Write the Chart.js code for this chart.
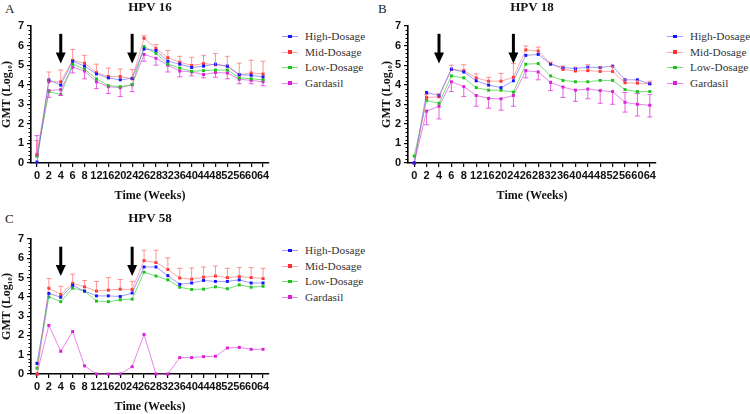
<!DOCTYPE html>
<html><head><meta charset="utf-8">
<script src="https://cdn.jsdelivr.net/npm/chart.js@4.4.1/dist/chart.umd.min.js"></script>
<style>
html,body{margin:0;padding:0;background:#fff;width:750px;height:414px;overflow:hidden;position:relative}
.box{position:absolute}
.letter{position:absolute;font:13px "Liberation Serif",serif;color:#222;line-height:14px}
.legend{position:absolute;font:11.3px "Liberation Serif",serif;color:#333;width:90px;height:70px}
.legend .row{position:absolute;left:0;height:14px;width:90px}
.legend .ln{position:absolute;left:0;top:7px;width:16px;height:1px}
.legend .pt{position:absolute;left:6px;top:5.5px;width:3.5px;height:3.5px}
.legend .tx{position:absolute;left:23px;top:0;line-height:14px;white-space:nowrap}
</style></head>
<body>
<div class="letter" style="left:5px;top:2px">A</div>
<div class="letter" style="left:378px;top:2px">B</div>
<div class="letter" style="left:5px;top:212px">C</div>
<div class="box" style="left:0;top:0;width:277px;height:203px"><canvas id="cA"></canvas></div>
<div class="box" style="left:380px;top:0;width:284px;height:203px"><canvas id="cB"></canvas></div>
<div class="box" style="left:0;top:211px;width:277px;height:203px"><canvas id="cC"></canvas></div>
<div class="legend" id="legA" style="left:282px;top:29px"></div>
<div class="legend" id="legB" style="left:667px;top:29px"></div>
<div class="legend" id="legC" style="left:282px;top:243px"></div>
<script>
// ---------- shared categories / labels ----------
const weeks = ['0','2','4','6','8','12','16','20','24','26','28','32','36','40','44','48','52','56','60','64'];
const seriesNames = ['High-Dosage','Mid-Dosage','Low-Dosage','Gardasil'];
const boostWeeks = ['4','24'];
const yMin = 0, yMax = 7;

// ---------- HPV 16 ----------
const high16 = [0.05,4.25,3.98,5.20,4.95,4.55,4.35,4.25,4.33,5.82,5.75,5.20,5.05,4.88,4.95,5.05,4.95,4.52,4.48,4.40];
const mid16  = [0.45,4.15,4.15,5.25,5.10,4.62,4.42,4.42,4.30,6.38,5.85,5.38,5.15,4.98,5.08,5.02,4.95,4.50,4.60,4.55];
const low16  = [0.35,3.65,3.50,5.05,4.80,4.30,3.95,3.90,4.00,5.95,5.60,5.05,4.85,4.68,4.72,4.75,4.75,4.35,4.30,4.25];
const gar16  = [0.40,3.70,3.75,4.90,4.70,4.15,3.90,3.85,4.00,5.55,5.35,5.00,4.70,4.65,4.52,4.62,4.60,4.28,4.22,4.15];
const mid16Hi = [1.15,4.65,4.75,5.80,5.50,5.05,4.85,4.80,4.78,6.50,6.05,5.75,5.45,5.40,5.50,5.60,5.45,5.10,5.25,5.20];
const gar16Lo = [null,3.35,3.45,4.60,4.30,3.80,3.55,3.40,3.65,5.20,5.00,4.65,4.40,4.45,4.35,4.38,4.30,4.05,4.05,3.95];
const gar16Hi = [1.40,null,null,null,null,null,null,null,null,null,null,null,null,null,null,null,null,null,null,null];

// ---------- HPV 18 ----------
const high18 = [0.00,3.60,3.45,4.80,4.65,4.20,3.98,3.85,4.20,5.50,5.55,5.05,4.88,4.82,4.90,4.88,4.95,4.25,4.25,4.05];
const mid18  = [0.00,3.35,3.38,4.78,4.72,4.35,4.18,4.18,4.38,5.78,5.72,5.08,4.78,4.70,4.72,4.68,4.68,4.10,4.08,4.05];
const low18  = [0.35,3.20,3.05,4.45,4.35,3.85,3.72,3.72,3.62,5.05,5.08,4.45,4.22,4.15,4.15,4.22,4.22,3.75,3.65,3.65];
const gar18  = [0.00,2.65,2.90,4.15,3.90,3.45,3.30,3.28,3.45,4.72,4.65,4.12,3.88,3.72,3.78,3.70,3.65,3.10,3.00,2.95];
const mid18Hi = [null,3.50,3.55,5.00,5.02,4.55,4.38,4.58,5.08,5.98,5.92,5.15,4.95,4.90,5.02,4.92,4.95,4.25,4.22,4.18];
const gar18Lo = [null,1.95,2.25,3.65,3.40,2.90,2.80,2.70,2.90,4.35,4.25,3.70,3.35,3.15,3.28,3.05,3.00,2.60,2.40,2.35];
const gar18Hi = [null,null,null,null,null,null,null,null,null,null,null,null,null,null,null,null,null,3.60,3.55,3.50];

// ---------- HPV 58 ----------
const high58 = [0.55,4.18,3.98,4.60,4.30,4.05,4.05,4.02,4.20,5.55,5.55,5.10,4.65,4.72,4.85,4.80,4.80,4.88,4.72,4.72];
const mid58  = [0.00,4.45,4.12,4.70,4.52,4.30,4.35,4.40,4.38,5.88,5.78,5.42,4.98,4.92,5.02,5.08,5.00,5.05,5.00,4.95];
const low58  = [0.30,4.00,3.75,4.45,4.30,3.78,3.75,3.85,3.88,5.28,5.08,4.88,4.50,4.38,4.40,4.52,4.42,4.62,4.50,4.55];
const gar58  = [0.00,2.52,1.18,2.20,0.42,0.00,0.00,0.00,0.38,2.05,0.00,0.00,0.85,0.85,0.90,0.92,1.35,1.38,1.28,1.28];
const mid58Hi = [null,4.95,4.55,5.18,4.85,4.80,5.00,4.90,4.80,6.42,6.42,6.02,5.48,5.50,5.55,5.60,5.48,5.52,5.52,5.48];

// ---------- styles ----------
const markerColors = ['#1414ff','#ff2d2d','#1fbf1f','#d81ed8'];
const lineColors   = ['rgba(90,90,255,0.6)','rgba(255,120,120,0.65)','rgba(70,215,70,0.75)','rgba(225,80,225,0.7)'];
const errColors    = ['#5a5aff','rgba(255,120,120,0.8)','#46d746','rgba(220,60,220,0.8)'];

const errorBarPlugin = {
  id:'errBars',
  afterDatasetsDraw(chart){
    const {ctx, scales:{x,y}} = chart;
    chart.data.datasets.forEach(ds=>{
      [ds.errHi, ds.errLo].forEach(arr=>{
        if(!arr) return;
        ctx.save();
        ctx.strokeStyle = ds.errColor; ctx.lineWidth = 1;
        arr.forEach((e,j)=>{
          if(e==null) return;
          const px = x.getPixelForValue(j), py = y.getPixelForValue(ds.data[j]), pe = y.getPixelForValue(e);
          ctx.beginPath(); ctx.moveTo(px,py); ctx.lineTo(px,pe);
          ctx.moveTo(px-2.5,pe); ctx.lineTo(px+2.5,pe); ctx.stroke();
        });
        ctx.restore();
      });
    });
  }
};
const arrowPlugin = {
  id:'boostArrows',
  afterDraw(chart, args, opts){
    const {ctx, scales:{x,y}} = chart;
    opts.at.forEach(lbl=>{
      const px = x.getPixelForValue(weeks.indexOf(lbl));
      const top = y.getPixelForValue(opts.from), tip = y.getPixelForValue(opts.to);
      ctx.save(); ctx.fillStyle='#000'; ctx.strokeStyle='#000'; ctx.lineWidth=3;
      ctx.beginPath(); ctx.moveTo(px,top); ctx.lineTo(px,tip-9); ctx.stroke();
      ctx.beginPath(); ctx.moveTo(px-5,tip-11); ctx.lineTo(px+5,tip-11); ctx.lineTo(px,tip); ctx.closePath(); ctx.fill();
      ctx.restore();
    });
  }
};
const minorTickPlugin = {
  id:'minorTicks',
  afterDraw(chart){
    const {ctx, scales:{y}, chartArea} = chart;
    ctx.save(); ctx.strokeStyle='#000'; ctx.lineWidth=1;
    for(let v=yMin; v<yMax; v+=1){
      for(let k=1;k<5;k++){
        const py = Math.round(y.getPixelForValue(v+k*0.2))+0.5;
        ctx.beginPath(); ctx.moveTo(chartArea.left,py); ctx.lineTo(chartArea.left-2.5,py); ctx.stroke();
      }
    }
    ctx.restore();
  }
};

function buildLegend(id){
  const el = document.getElementById(id);
  const tops = [0,15.5,31,46.5];
  seriesNames.forEach((n,i)=>{
    const r = document.createElement('div'); r.className='row'; r.style.top = tops[i]+'px';
    r.innerHTML = '<div class="ln" style="background:'+lineColors[i]+'"></div><div class="pt" style="background:'+markerColors[i]+'"></div><div class="tx">'+n+'</div>';
    el.appendChild(r);
  });
}

function makeChart(canvasId, title, series, errs, yAxisW, titleBottomPad){
  const datasets = series.map((d,i)=>({
    label: seriesNames[i], data: d,
    borderColor: lineColors[i], borderWidth: 1, tension: 0,
    pointStyle:'rect', pointRadius: 2.1, pointBorderWidth: 0,
    pointBackgroundColor: markerColors[i], pointBorderColor: markerColors[i],
    errHi: errs[i] ? errs[i].hi : null, errLo: errs[i] ? errs[i].lo : null, errColor: errColors[i],
    clip: false
  }));
  const tickFont = {family:'"Liberation Sans", Arial, sans-serif', weight:'bold', size:11};
  const titleFont = {family:'"Liberation Serif", "Times New Roman", serif', weight:'bold', size:12};
  return new Chart(document.getElementById(canvasId), {
    type:'line',
    data:{labels: weeks, datasets},
    options:{
      responsive:true, maintainAspectRatio:false, animation:false,
      layout:{padding:{left:0,right:8,top:0,bottom:0}},
      plugins:{
        legend:{display:false}, tooltip:{enabled:false},
        title:{display:true, text:title, fullSize:false, color:'#111',
               font:{family:'"Liberation Serif", "Times New Roman", serif', weight:'bold', size:13},
               padding:{top:0,bottom:titleBottomPad}},
        boostArrows:{at: boostWeeks, from: 6.6, to: 5.08}
      },
      scales:{
        x:{type:'category', offset:true,
           grid:{display:true, drawOnChartArea:false, drawTicks:true, tickLength:4, color:'#000', lineWidth:1.2, offset:false},
           border:{display:true, color:'#000', width:1.6},
           ticks:{autoSkip:false, maxRotation:0, minRotation:0, padding:2, color:'#111', font:tickFont},
           title:{display:true, text:'Time (Weeks)', color:'#111', font:titleFont, padding:{top:0,bottom:0}},
           afterFit(s){ s.height = 40; }
        },
        y:{min:yMin, max:yMax,
           grid:{display:true, drawOnChartArea:false, drawTicks:true, tickLength:4, color:'#000', lineWidth:1.2},
           border:{display:true, color:'#000', width:1.6},
           ticks:{stepSize:1, padding:3, color:'#111', font:tickFont},
           title:{display:true, text:'GMT (Log\u2081\u2080)', color:'#111', font:titleFont, padding:{top:0,bottom:0}},
           afterFit(s){ s.width = yAxisW; }
        }
      }
    },
    plugins:[errorBarPlugin, arrowPlugin, minorTickPlugin]
  });
}

makeChart('cA','HPV 16',[high16,mid16,low16,gar16],[null,{hi:mid16Hi,lo:null},null,{hi:gar16Hi,lo:gar16Lo}],31,10.4);
makeChart('cB','HPV 18',[high18,mid18,low18,gar18],[null,{hi:mid18Hi,lo:null},null,{hi:gar18Hi,lo:gar18Lo}],28,10.4);
makeChart('cC','HPV 58',[high58,mid58,low58,gar58],[null,{hi:mid58Hi,lo:null},null,null],31,12.4);
buildLegend('legA'); buildLegend('legB'); buildLegend('legC');
</script>
</body></html>
